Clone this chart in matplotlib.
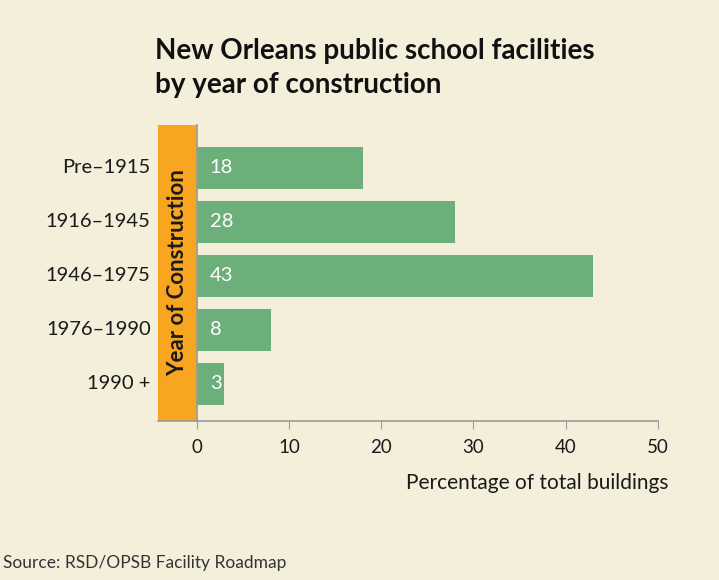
import matplotlib.pyplot as plt

plt.rcParams['font.family'] = ['Lato', 'DejaVu Sans']

periods = ["Pre\u20131915", "1916\u20131945", "1946\u20131975", "1976\u20131990", "1990 +"]
shares = [18, 28, 43, 8, 3]
xticks = [0, 10, 20, 30, 40, 50]

bg = "#f4efdb"
green = "#6daf7b"
orange = "#f8a51f"
grey = "#9a9a9a"

fig = plt.figure(figsize=(7.19, 5.80), dpi=100, facecolor=bg)
ax = fig.add_axes([158 / 719, (580 - 421) / 580, 500 / 719, 296 / 580])
ax.set_facecolor(bg)

ypos = list(range(len(periods)))
ax.barh(ypos, shares, height=0.78, color=green, zorder=2)
for y, v in zip(ypos, shares):
    ax.text(1.4, y, str(v), color="white", fontsize=14.5, va="center", ha="left", zorder=3)

ax.set_xlim(-4.2, 50)
ax.set_ylim(4.69, -0.79)

# orange band holding the rotated axis title
ax.axvspan(-4.2, 0, color=orange, zorder=1, lw=0)
ax.text(-2.1, 1.95, "Year of Construction", rotation=90, ha="center", va="center",
        fontsize=16, fontweight="bold", color="#1a1a1a", zorder=3)

for s in ["top", "right"]:
    ax.spines[s].set_visible(False)
ax.spines["left"].set_position(("data", 0))
ax.spines["left"].set_color(grey)
ax.spines["bottom"].set_color(grey)
ax.spines["left"].set_linewidth(1.2)
ax.spines["bottom"].set_linewidth(1.2)

ax.set_xticks(xticks)
ax.set_xticklabels([str(t) for t in xticks], fontsize=13.5)
ax.tick_params(axis="x", length=6, color=grey, pad=7, labelcolor="#1a1a1a")
ax.set_yticks([])

for y, p in zip(ypos, periods):
    ax.text(-5.0, y, p, ha="right", va="center", fontsize=14.5, color="#1a1a1a")

ax.set_xlabel("Percentage of total buildings", fontsize=15, color="#1a1a1a")
ax.xaxis.set_label_coords(1.02, -0.175)
ax.xaxis.label.set_ha("right")

fig.text(155 / 719, 1 - 68 / 580, "New Orleans public school facilities\nby year of construction",
         ha="left", va="center", fontsize=20, fontweight="bold", color="#111111", linespacing=1.4)
fig.text(3 / 719, 1 - 563 / 580, "Source: RSD/OPSB Facility Roadmap", ha="left", va="center",
         fontsize=12.5, color="#333333")

fig.savefig("out.png", dpi=100, facecolor=bg)
